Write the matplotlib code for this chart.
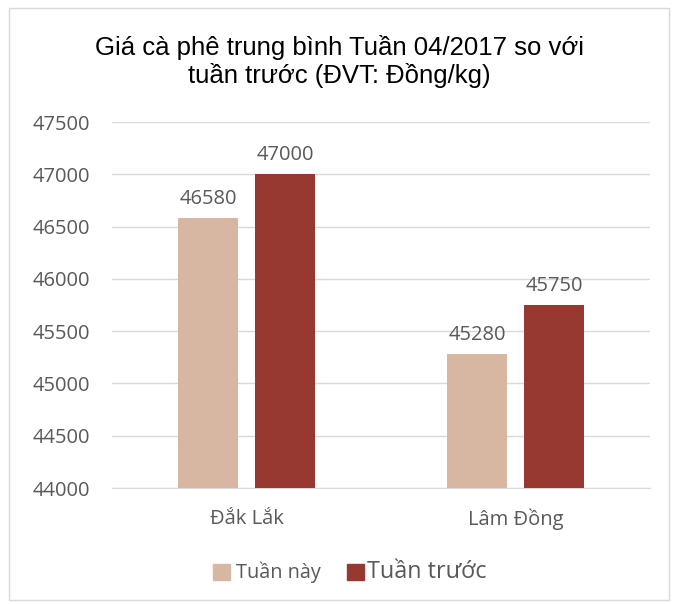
import numpy as np
import matplotlib.pyplot as plt
from matplotlib.patches import Rectangle

# Data
categories = ['Đắk Lắk', 'Lâm Đồng']
this_week = [46580, 45280]
last_week = [47000, 45750]
series_names = ['Tuần này', 'Tuần trước']
y_ticks = [44000, 44500, 45000, 45500, 46000, 46500, 47000, 47500]

c_this = '#D8B7A2'
c_last = '#973831'
gray = '#595959'

fig = plt.figure(figsize=(6.79, 6.04), dpi=100)
ax = fig.add_axes([0.165, 0.192, 0.7923, 0.606])

x = np.arange(len(categories))
w = 0.223
off = 0.143
b1 = ax.bar(x - off, this_week, w, color=c_this, zorder=3)
b2 = ax.bar(x + off, last_week, w, color=c_last, zorder=3)

for bars, vals in [(b1, this_week), (b2, last_week)]:
    for b, v in zip(bars, vals):
        ax.text(b.get_x() + b.get_width() / 2, v + 90, str(v),
                ha='center', va='bottom', fontsize=14.5, color=gray,
                family='Open Sans')

ax.set_xlim(-0.5, 1.5)
ax.set_ylim(44000, 47500)
ax.set_yticks(y_ticks)
ax.set_yticklabels([str(t) for t in y_ticks], family='Open Sans',
                   fontsize=14.5, color=gray)
ax.set_xticks(x)
ax.set_xticklabels(categories, family='Open Sans', fontsize=14.5, color=gray)
ax.tick_params(axis='both', length=0)
ax.tick_params(axis='y', pad=16)
ax.tick_params(axis='x', pad=15)
ax.grid(axis='y', color='#D9D9D9', linewidth=1, zorder=0)
for s in ['left', 'right', 'top']:
    ax.spines[s].set_visible(False)
ax.spines['bottom'].set_color('#D9D9D9')

fig.text(0.5, 0.898, 'Giá cà phê trung bình Tuần 04/2017 so với\ntuần trước (ĐVT: Đồng/kg)',
         ha='center', va='center', fontsize=18.5, family='Liberation Sans',
         linespacing=1.15, color='black')

# legend
fig.patches.append(Rectangle((0.313, 0.04), 0.025, 0.027, transform=fig.transFigure,
                             color=c_this))
fig.text(0.347, 0.053, series_names[0], fontsize=14.3, color=gray,
         family='Open Sans', va='center')
fig.patches.append(Rectangle((0.511, 0.04), 0.025, 0.027, transform=fig.transFigure,
                             color=c_last))
fig.text(0.54, 0.053, series_names[1], fontsize=16.8, color=gray,
         family='Open Sans', va='center')

# chart border
fig.patches.append(Rectangle((0.013, 0.006), 0.972, 0.98, transform=fig.transFigure,
                             fill=False, edgecolor='#D9D9D9', linewidth=1))

fig.savefig('out.png', dpi=100)
